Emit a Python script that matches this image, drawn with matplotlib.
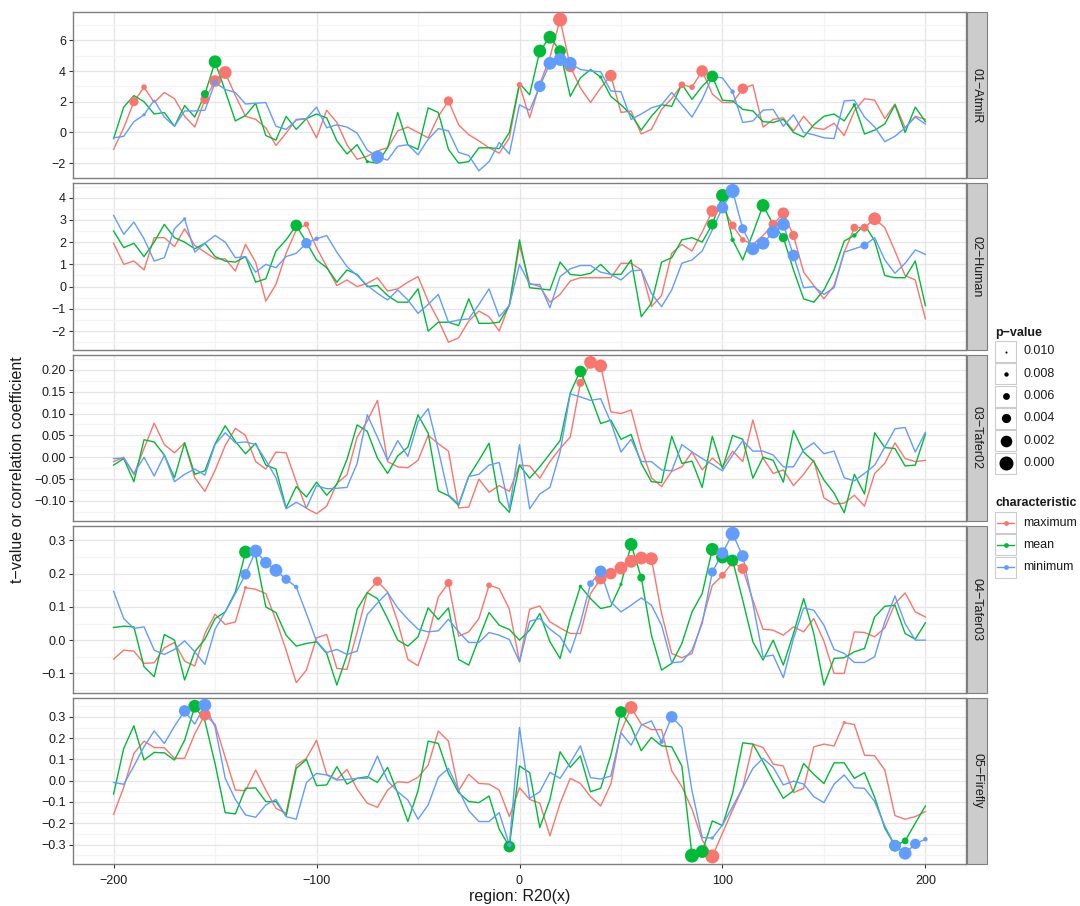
import numpy as np
import matplotlib.pyplot as plt
from matplotlib.ticker import MultipleLocator, FuncFormatter
from matplotlib.patches import Rectangle

plt.rcParams['font.family'] = ['Liberation Sans', 'DejaVu Sans']

region = np.arange(-200, 205, 5)

# 01-AtmiR (t-values)
amir_max = [-1.1, 0.3, 2.0, 2.95, 1.95, 2.6, 2.2, 1.05, 0.35, 2.15, 3.35, 3.9, 2.4, 1.05, 0.85, 0.3, -0.85, -0.05, 0.85, 0.9,
            -0.35, 1.45, 0.65, -0.8, -1.75, -1.55, -1.2, -1.0, 0.1, 0.35, 0.0, -0.35, 1.05, 2.05, 0.5, -0.15, -0.55, -1.0, -1.35, -0.35,
            3.1, 0.95, 3.15, 4.9, 7.35, 4.3, 2.9, 1.95, 2.9, 3.7, 1.3, 1.4, -0.1, 0.2, 1.5, 2.2, 3.1, 2.95, 4.0, 2.5,
            1.95, 1.95, 2.85, 3.1, 0.35, 0.85, 0.95, 0.1, 1.05, 0.3, 0.2, 0.6, -0.2, 1.4, 2.2, 2.1, 0.9, 1.85, 0.3, 1.05, 0.85]
amir_mean = [-0.4, 1.65, 2.4, 2.0, 1.2, 1.3, 0.4, 1.75, 1.0, 2.5, 4.6, 2.7, 0.75, 1.1, 1.9, -0.2, -0.5, 1.05, 0.2, 0.9,
             1.2, 0.95, -0.55, -1.4, -0.8, -1.9, -2.0, -1.0, 1.3, -0.8, -1.1, 1.6, 1.3, -1.1, -2.0, -1.9, -1.0, -1.0, -1.05, 0.0,
             3.2, 2.45, 5.3, 6.2, 5.3, 2.35, 3.55, 4.1, 3.6, 2.35, 1.8, 1.15, 0.15, 1.05, 1.8, 1.7, 3.15, 2.15, 3.0, 3.65,
             2.1, 2.05, 1.5, 1.4, 0.7, 0.65, 0.85, 0.0, -0.3, 0.5, 1.05, 1.2, 0.75, 1.8, -0.1, 0.15, 0.55, 1.8, 0.0, 1.65, 0.7]
amir_min = [-0.35, -0.25, 0.7, 1.15, 2.1, 1.0, 0.4, 1.4, 1.4, 1.45, 3.25, 2.8, 2.6, 1.85, 1.9, 1.95, 0.4, 0.2, 0.8, 0.9,
            1.65, 0.3, 0.5, 0.35, -0.05, -1.15, -1.6, -1.8, -0.9, -0.8, -1.45, -0.45, 0.25, 0.1, -1.3, -1.5, -2.5, -1.9, -0.65, -1.4,
            1.8, 1.45, 3.0, 4.5, 4.75, 4.5, 4.1, 4.0, 3.95, 2.7, 2.65, 0.85, 1.2, 1.6, 1.8, 2.6, 1.8, 1.0, 2.15, 3.65,
            3.55, 2.65, 0.65, 0.75, 1.45, 1.5, 0.4, 1.15, 0.0, -0.15, -0.35, -0.4, 2.05, 2.1, 1.0, 0.35, -0.6, -0.25, 0.3, 1.0, 0.55]
amir_max_sig = [(-190, 0.004), (-185, 0.007), (-155, 0.004), (-150, 0.002), (-145, 0.001), (-35, 0.004), (0, 0.007),
                (20, 0.000), (25, 0.002), (45, 0.002), (80, 0.006), (85, 0.007), (90, 0.002), (110, 0.003)]
amir_mean_sig = [(-155, 0.005), (-150, 0.001), (-75, 0.009), (10, 0.001), (15, 0.001), (20, 0.002), (40, 0.009),
                 (95, 0.002), (165, 0.009)]
amir_min_sig = [(-185, 0.009), (-150, 0.007), (-70, 0.001), (10, 0.002), (15, 0.001), (20, 0.001), (25, 0.001), (105, 0.008)]

# 02-Human (t-values)
human_max = [1.95, 1.0, 1.15, 0.75, 2.2, 2.2, 1.8, 2.6, 1.85, 1.55, 1.25, 1.25, 0.7, 1.9, 1.1, -0.65, 0.1, 1.5, 2.55, 2.8,
             1.75, 0.9, 0.05, 0.3, 0.0, 0.15, 0.4, -0.2, -0.1, 0.2, 0.45, -0.65, -1.5, -2.5, -2.3, -1.55, -1.1, -1.35, -2.0, -0.8,
             1.85, 0.15, 0.0, -0.7, -0.35, 0.25, 0.4, 0.4, 0.4, 0.4, 1.05, 1.05, 0.75, -0.9, -0.4, 1.5, 1.9, 1.6, 2.45, 3.4,
             3.6, 2.75, 2.1, 1.9, 2.3, 2.8, 3.3, 2.3, 0.65, 0.05, -0.55, 0.05, 1.55, 2.65, 2.65, 3.05, 2.65, 1.6, 0.5, 0.3, -1.45]
human_mean = [2.5, 1.75, 1.95, 1.35, 2.0, 2.8, 2.2, 2.0, 1.7, 1.95, 1.35, 1.15, 1.1, 1.35, 0.2, 0.35, 1.6, 2.1, 2.75, 2.0,
              1.2, 0.85, 0.2, 0.75, 0.55, 0.0, 0.05, -0.4, -0.7, -0.7, -0.1, -2.0, -1.6, -1.6, -1.75, -0.55, -1.65, -1.65, -1.6, -0.85,
              2.1, -0.05, -0.1, -0.15, 1.1, 0.55, 0.5, 0.6, 1.0, 0.55, 0.55, 1.2, -1.35, -0.75, 1.1, 1.3, 2.1, 2.2, 2.0, 2.8,
              4.1, 2.1, 1.2, 2.4, 3.65, 2.8, 2.2, 0.75, -0.55, -0.7, -0.15, 0.75, 2.05, 2.3, 2.8, 2.05, 0.5, 0.4, 0.4, 1.15, -0.85]
human_min = [3.2, 2.35, 2.9, 2.15, 1.15, 1.3, 2.6, 3.05, 1.55, 1.95, 2.3, 2.0, 1.3, 1.35, 0.65, 1.0, 0.85, 1.35, 1.5, 1.95,
             2.15, 2.3, 1.55, 0.9, 0.5, 0.05, -0.3, -0.6, -0.15, -0.6, -1.2, -0.8, -0.35, -1.6, -1.5, -1.45, -0.8, -0.1, -1.35, -0.85,
             1.0, 0.1, 0.1, -0.95, 0.45, 0.8, 0.95, 0.95, 0.65, 0.55, 0.3, 0.7, 0.75, -0.3, -0.9, -0.15, 1.05, 1.2, 1.6, 2.55,
             3.55, 4.3, 2.6, 1.7, 1.95, 2.45, 2.8, 1.4, -0.05, 0.0, -0.35, -0.05, 1.55, 1.7, 1.85, 2.2, 1.2, 0.6, 1.05, 1.65, 1.45]
human_max_sig = [(-105, 0.007), (95, 0.002), (105, 0.005), (110, 0.007), (125, 0.004), (130, 0.002), (135, 0.004),
                 (165, 0.005), (170, 0.005), (175, 0.001)]
human_mean_sig = [(-110, 0.002), (95, 0.003), (100, 0.001), (105, 0.008), (120, 0.001), (130, 0.004), (165, 0.008)]
human_min_sig = [(-165, 0.009), (-105, 0.003), (-100, 0.008), (100, 0.002), (105, 0.000), (110, 0.004), (115, 0.001),
                 (120, 0.001), (125, 0.001), (130, 0.001), (135, 0.002), (170, 0.005)]

# 03-Tafer02 (correlation coefficients)
tafer02_max = [-0.01, 0.0, -0.04, 0.02, 0.078, 0.029, 0.01, 0.033, -0.047, -0.078, -0.03, 0.027, 0.066, 0.05, -0.01, -0.027, 0.012, 0.01, -0.056, -0.117,
               -0.129, -0.112, -0.06, -0.04, 0.046, 0.083, 0.13, -0.01, -0.022, -0.024, -0.007, 0.05, 0.031, 0.014, -0.116, -0.114, -0.05, -0.08, -0.065, -0.078,
               -0.018, -0.02, -0.048, -0.01, 0.02, 0.046, 0.17, 0.217, 0.209, 0.104, 0.1, 0.108, 0.02, -0.047, -0.067, -0.032, -0.022, 0.012, -0.029, -0.002,
               -0.022, 0.014, -0.01, 0.085, -0.002, -0.037, -0.029, -0.065, -0.039, -0.007, -0.093, -0.107, -0.105, -0.087, -0.112, -0.037, -0.014, 0.033, -0.003, -0.01, -0.007]
tafer02_mean = [-0.018, -0.003, -0.056, 0.04, 0.035, 0.005, -0.047, 0.033, -0.039, -0.031, 0.031, 0.072, 0.036, 0.008, 0.032, -0.018, -0.027, -0.116, -0.067, -0.091,
                -0.057, -0.087, -0.062, -0.005, 0.074, 0.059, -0.002, -0.037, 0.003, 0.023, 0.097, 0.055, -0.077, -0.088, -0.11, -0.044, -0.007, 0.032, -0.101, -0.126,
                -0.018, -0.048, -0.022, 0.008, 0.038, 0.147, 0.198, 0.14, 0.077, 0.085, 0.041, 0.052, -0.014, -0.056, -0.058, 0.048, -0.014, -0.009, -0.069, 0.048,
                -0.026, 0.05, 0.041, -0.048, 0.0, -0.007, -0.057, 0.061, 0.012, -0.01, -0.052, -0.082, -0.127, -0.039, -0.084, 0.056, 0.022, 0.02, -0.02, -0.018, 0.053]
tafer02_min = [-0.003, -0.002, -0.037, 0.0, -0.043, 0.005, -0.056, -0.039, -0.027, -0.041, 0.029, 0.056, 0.033, 0.035, 0.029, -0.007, -0.047, -0.118, -0.103, -0.116,
               -0.065, -0.072, -0.071, -0.069, -0.014, 0.097, 0.046, -0.007, 0.038, 0.002, 0.081, 0.111, 0.017, -0.086, -0.107, -0.044, -0.039, -0.018, -0.012, -0.118,
               0.029, -0.118, -0.084, -0.069, 0.012, 0.145, 0.138, 0.13, 0.134, 0.08, 0.012, 0.041, -0.01, -0.01, -0.029, -0.031, 0.029, 0.012, -0.003, -0.016,
               -0.031, 0.005, 0.038, 0.014, 0.014, 0.005, -0.022, -0.022, 0.017, 0.033, 0.008, 0.014, -0.047, -0.054, -0.037, -0.018, 0.023, 0.065, 0.068, 0.012, 0.057]
tafer02_max_sig = [(30, 0.005), (35, 0.001), (40, 0.001)]
tafer02_mean_sig = [(30, 0.002)]
tafer02_min_sig = []

# 04-Tafer03 (correlation coefficients)
tafer03_max = [-0.057, -0.03, -0.033, -0.07, -0.068, -0.023, -0.007, -0.063, -0.078, 0.02, 0.078, 0.047, 0.055, 0.158, 0.153, 0.14, 0.06, -0.03, -0.128, -0.09,
               0.007, 0.017, -0.085, -0.088, 0.025, 0.143, 0.177, 0.145, 0.055, -0.058, -0.077, 0.01, 0.13, 0.172, 0.012, 0.025, 0.065, 0.165, 0.155, 0.093,
               -0.065, 0.093, 0.103, 0.055, 0.037, 0.02, 0.02, 0.14, 0.185, 0.2, 0.217, 0.237, 0.247, 0.245, 0.08, -0.04, -0.053, -0.04, 0.057, 0.165,
               0.195, 0.235, 0.215, 0.12, 0.033, 0.03, 0.015, 0.04, 0.025, 0.065, -0.003, -0.1, -0.1, 0.025, 0.023, 0.01, 0.037, 0.11, 0.142, 0.085, 0.07]
tafer03_mean = [0.038, 0.042, 0.04, -0.08, -0.11, 0.017, 0.0, -0.12, -0.035, 0.003, 0.065, 0.085, 0.145, 0.265, 0.255, 0.1, 0.083, 0.015, -0.018, -0.01,
                -0.005, -0.04, -0.135, -0.045, 0.093, 0.143, 0.125, 0.065, 0.0, -0.018, 0.01, 0.097, 0.062, 0.097, -0.058, -0.075, 0.005, 0.083, 0.045, 0.032,
                0.0, 0.03, 0.08, -0.005, -0.055, 0.065, 0.162, 0.125, 0.095, 0.102, 0.168, 0.288, 0.188, 0.015, -0.09, -0.07, -0.01, 0.085, 0.14, 0.273,
                0.25, 0.24, 0.12, -0.005, -0.06, 0.0, -0.075, 0.02, 0.125, 0.02, -0.135, -0.055, -0.053, -0.035, -0.025, 0.07, 0.102, 0.105, 0.02, 0.003, 0.052]
tafer03_min = [0.147, 0.065, 0.035, 0.04, -0.03, -0.043, -0.028, -0.002, -0.035, -0.073, 0.033, 0.085, 0.14, 0.198, 0.268, 0.233, 0.21, 0.183, 0.16, 0.08,
               -0.003, -0.037, -0.028, -0.043, -0.033, 0.077, 0.112, 0.143, 0.097, 0.063, 0.033, 0.025, 0.028, 0.063, 0.025, -0.007, -0.007, 0.023, 0.015, 0.002,
               -0.065, 0.057, 0.065, 0.033, 0.01, -0.038, 0.052, 0.17, 0.207, 0.115, 0.085, 0.105, 0.127, 0.105, 0.045, -0.068, -0.065, -0.03, 0.05, 0.205,
               0.262, 0.32, 0.253, 0.11, -0.05, -0.045, -0.113, 0.005, 0.097, 0.09, 0.045, -0.028, -0.04, -0.067, -0.067, -0.05, 0.055, 0.133, 0.05, 0.0, 0.0]
tafer03_max_sig = [(-135, 0.009), (-70, 0.004), (-35, 0.005), (-15, 0.007), (40, 0.002), (45, 0.002), (50, 0.001),
                   (55, 0.001), (60, 0.001), (65, 0.001), (100, 0.006), (105, 0.004), (110, 0.003)]
tafer03_mean_sig = [(-135, 0.001), (30, 0.009), (50, 0.009), (55, 0.001), (60, 0.005), (95, 0.001), (100, 0.001), (105, 0.002)]
tafer03_min_sig = [(-135, 0.003), (-130, 0.001), (-125, 0.002), (-120, 0.001), (-115, 0.004), (-110, 0.008), (35, 0.006),
                   (40, 0.002), (95, 0.004), (100, 0.002), (105, 0.000), (110, 0.002)]

# 05-Firefly (correlation coefficients)
firefly_max = [-0.158, -0.031, 0.128, 0.186, 0.156, 0.155, 0.105, 0.105, 0.22, 0.31, 0.265, 0.11, -0.044, -0.047, 0.05, -0.044, -0.13, -0.153, 0.073, 0.105,
               0.19, 0.03, 0.006, 0.053, -0.04, -0.106, -0.125, -0.044, -0.005, -0.009, 0.016, 0.073, 0.233, 0.186, -0.047, 0.03, -0.013, -0.016, -0.044, -0.169,
               -0.033, -0.088, -0.106, -0.259, -0.106, 0.011, -0.013, -0.075, -0.119, -0.016, 0.23, 0.344, 0.266, 0.24, 0.24, 0.047, -0.028, -0.134, -0.278, -0.356,
               -0.247, -0.138, -0.033, 0.172, 0.156, 0.078, 0.069, -0.056, -0.036, 0.159, 0.172, 0.163, 0.273, 0.264, 0.12, 0.117, 0.05, -0.164, -0.181, -0.169, -0.145]
firefly_mean = [-0.063, 0.152, 0.258, 0.097, 0.133, 0.131, 0.097, 0.19, 0.35, 0.28, 0.08, -0.15, -0.156, -0.036, -0.034, -0.098, -0.098, -0.166, 0.058, 0.1,
                -0.023, -0.02, 0.066, -0.016, 0.011, 0.019, -0.008, 0.063, -0.059, -0.192, -0.047, 0.186, 0.175, 0.034, -0.056, -0.098, -0.103, -0.072, -0.228, -0.31,
                0.069, 0.038, -0.22, -0.088, 0.136, 0.063, 0.116, -0.052, -0.036, 0.12, 0.323, 0.253, 0.141, 0.203, 0.164, 0.159, 0.069, -0.352, -0.333, -0.189,
                -0.211, -0.059, 0.178, 0.172, 0.089, 0.0, -0.083, -0.047, 0.081, 0.03, -0.013, 0.084, 0.084, 0.011, 0.038, -0.078, -0.223, -0.306, -0.283, -0.2, -0.119]
firefly_min = [-0.008, -0.017, 0.069, 0.16, 0.234, 0.175, 0.256, 0.328, 0.266, 0.355, 0.253, 0.011, -0.088, -0.161, -0.172, -0.114, -0.088, -0.169, -0.181, -0.009,
               0.034, 0.027, 0.003, 0.006, 0.011, 0.011, 0.116, 0.0, -0.052, -0.091, -0.181, -0.114, 0.016, 0.058, -0.044, -0.141, -0.192, -0.192, -0.15, -0.302,
               0.25, -0.083, -0.052, 0.039, 0.011, 0.084, 0.164, 0.014, 0.008, 0.022, 0.225, 0.167, 0.261, 0.281, 0.183, 0.3, 0.25, -0.048, -0.267, -0.27,
               -0.208, -0.122, -0.033, 0.058, 0.105, 0.063, -0.02, -0.002, -0.016, -0.075, -0.103, -0.016, 0.027, -0.033, -0.036, -0.098, -0.213, -0.305, -0.341, -0.297, -0.275]
firefly_max_sig = [(-155, 0.002), (55, 0.001), (95, 0.000), (160, 0.009)]
firefly_mean_sig = [(-160, 0.001), (-5, 0.002), (50, 0.002), (85, 0.000), (90, 0.001), (185, 0.002), (190, 0.006)]
firefly_min_sig = [(-165, 0.002), (-155, 0.001), (-5, 0.008), (70, 0.008), (75, 0.002), (95, 0.009), (185, 0.002),
                   (190, 0.001), (195, 0.003), (200, 0.008)]

characteristics = ["maximum", "mean", "minimum"]
colours = ["#F8766D", "#00BA38", "#619CFF"]
pvalue_breaks = [0.010, 0.008, 0.006, 0.004, 0.002, 0.000]

facets = [
    ("01\u2212AtmiR", [amir_max, amir_mean, amir_min], [amir_max_sig, amir_mean_sig, amir_min_sig], 2, "%d"),
    ("02\u2212Human", [human_max, human_mean, human_min], [human_max_sig, human_mean_sig, human_min_sig], 1, "%d"),
    ("03\u2212Tafer02", [tafer02_max, tafer02_mean, tafer02_min], [tafer02_max_sig, tafer02_mean_sig, tafer02_min_sig], 0.05, "%.2f"),
    ("04\u2212Tafer03", [tafer03_max, tafer03_mean, tafer03_min], [tafer03_max_sig, tafer03_mean_sig, tafer03_min_sig], 0.1, "%.1f"),
    ("05\u2212Firefly", [firefly_max, firefly_mean, firefly_min], [firefly_max_sig, firefly_mean_sig, firefly_min_sig], 0.1, "%.1f"),
]


def dot_area(p):
    # smaller p-value -> bigger dot (diameter in px, then points^2)
    diam_px = 2.0 + 12.0 * (0.01 - np.asarray(p)) / 0.01
    return (diam_px * 0.72) ** 2


def minus_fmt(fmt):
    def f(v, pos):
        s = fmt % (0.0 if abs(v) < 1e-9 else v)
        return s.replace("-", "\u2212")
    return FuncFormatter(f)


W, H = 1080, 906
fig = plt.figure(figsize=(W / 100, H / 100), dpi=100)

left_px, right_px = 73, 966
top_px, bottom_px, gap_px = 12, 864, 5
panel_h = (bottom_px - top_px - 4 * gap_px) / 5
text_col = "#1a1a1a"
border_col = "#7F7F7F"

# overlay in pixel coordinates for strips and legend
over = fig.add_axes([0, 0, 1, 1], zorder=10)
over.set_xlim(0, W)
over.set_ylim(H, 0)
over.set_axis_off()

for k, (name, series, sigs, step, fmt) in enumerate(facets):
    ptop = top_px + k * (panel_h + gap_px)
    ax = fig.add_axes([left_px / W, 1 - (ptop + panel_h) / H, (right_px - left_px) / W, panel_h / H])
    series = [np.array(s) for s in series]

    for vals, col in zip(series, colours):
        ax.plot(region, vals, color=col, lw=1.0, zorder=3)
    for vals, sig, col in zip(series, sigs, colours):
        if not sig:
            continue
        xs = np.array([s[0] for s in sig])
        ps = np.array([s[1] for s in sig])
        ys = vals[((xs + 200) // 5).astype(int)]
        ax.scatter(xs, ys, s=dot_area(ps), color=col, linewidths=0, zorder=4)

    lo = min(s.min() for s in series)
    hi = max(s.max() for s in series)
    pad = 0.05 * (hi - lo)
    ax.set_ylim(lo - pad, hi + pad)
    ax.set_xlim(-220, 220)

    ax.xaxis.set_major_locator(MultipleLocator(100))
    ax.xaxis.set_minor_locator(MultipleLocator(50))
    ax.xaxis.set_major_formatter(minus_fmt("%d"))
    ax.yaxis.set_major_locator(MultipleLocator(step))
    ax.yaxis.set_minor_locator(MultipleLocator(step / 2))
    ax.yaxis.set_major_formatter(minus_fmt(fmt))

    ax.set_axisbelow(True)
    ax.grid(which="major", color="#E5E5E5", lw=0.9, zorder=0)
    ax.grid(which="minor", color="#F4F4F4", lw=0.9, zorder=0)
    for sp in ax.spines.values():
        sp.set_color(border_col)
        sp.set_linewidth(1.0)

    ax.tick_params(which="minor", length=0)
    ax.tick_params(which="major", length=3, width=0.8, color="#333333",
                   labelsize=9, labelcolor=text_col, pad=2)
    ax.tick_params(axis="x", pad=5)
    if k < 4:
        ax.tick_params(axis="x", length=0, labelbottom=False)

    # facet strip on the right
    over.add_patch(Rectangle((right_px + 1, ptop), 20, panel_h, facecolor="#CCCCCC",
                             edgecolor=border_col, lw=0.8))
    over.text(right_px + 11, ptop + panel_h / 2, name, rotation=270, ha="center", va="center",
              fontsize=9, color=text_col)

fig.text(18 / W, 1 - 470 / H, "t\u2212value or correlation coefficient", rotation=90,
         ha="center", va="center", fontsize=11.5, color=text_col)
fig.text((113 + 926) / 2 / W, 1 - 897 / H, "region: R20(x)", ha="center", va="center",
         fontsize=11.5, color=text_col)

# p-value legend
lx = 995
over.text(lx, 333, "p\u2212value", fontsize=9, fontweight="bold", va="center", ha="left", color=text_col)
for j, p in enumerate(pvalue_breaks):
    ky = 341 + j * 22.3
    over.add_patch(Rectangle((lx, ky), 21, 21, facecolor="white", edgecolor="#CCCCCC", lw=0.8))
    over.scatter([lx + 10.5], [ky + 10.5], s=dot_area(p), color="black", linewidths=0)
    over.text(lx + 28, ky + 10.5, "%.3f" % p, fontsize=9, va="center", ha="left", color=text_col)

# characteristic legend
over.text(lx, 503, "characteristic", fontsize=9, fontweight="bold", va="center", ha="left", color=text_col)
for j, (lab, col) in enumerate(zip(characteristics, colours)):
    ky = 512 + j * 22.3
    over.add_patch(Rectangle((lx, ky), 21, 21, facecolor="white", edgecolor="#CCCCCC", lw=0.8))
    over.plot([lx + 2, lx + 19], [ky + 10.5, ky + 10.5], color=col, lw=1.0)
    over.scatter([lx + 10.5], [ky + 10.5], s=12, color=col, linewidths=0)
    over.text(lx + 28, ky + 10.5, lab, fontsize=9, va="center", ha="left", color=text_col)

fig.savefig("out.png", dpi=100)
